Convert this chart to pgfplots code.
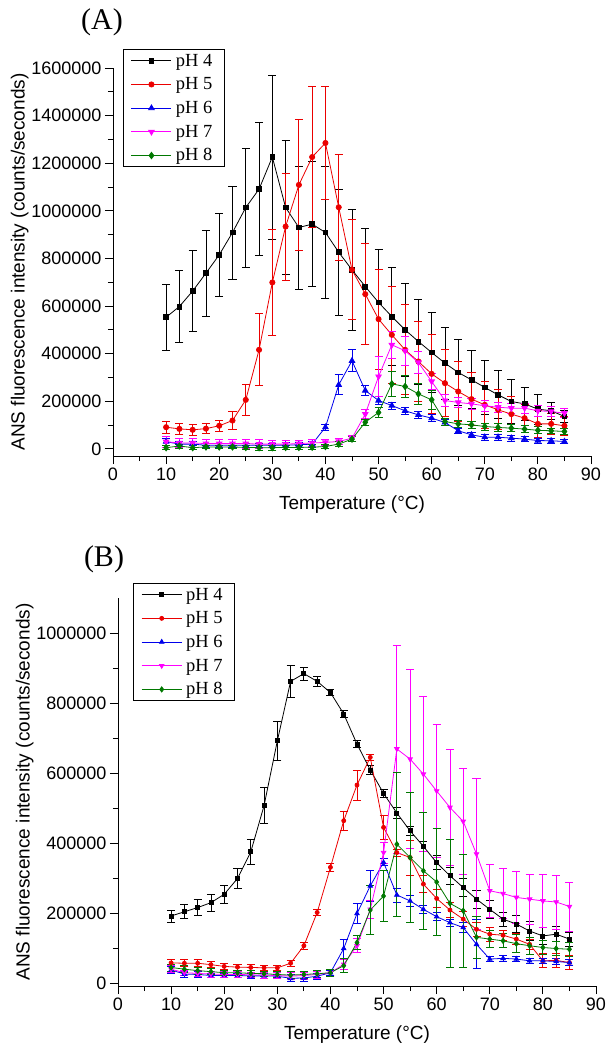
\documentclass[border=0pt]{standalone}
\usepackage{pgfplots}
\usepackage{pgfplotstable}
\pgfplotsset{compat=1.18}
\usepackage{fontspec}
\setmainfont{Liberation Sans}
\newfontfamily\tnr{Liberation Serif}
\definecolor{cred}{RGB}{235,0,0}
\definecolor{cblue}{RGB}{0,0,235}
\definecolor{cmag}{RGB}{255,0,255}
\definecolor{cgreen}{RGB}{0,120,0}

% Panel A: T, value, error for pH 4..8
\pgfplotstableread{
T a4 e4 a5 e5 a6 e6 a7 e7 a8 e8
10 553000 140000 91000 24000 30000 15000 30000 22000 5000 8000
12.5 598000 150000 84000 22000 20000 12000 25000 20000 12000 8000
15 663000 170000 80000 22000 20000 12000 25000 18000 5000 8000
17.5 738000 180000 85000 22000 15000 10000 22000 18000 8000 8000
20 815000 175000 97000 22000 15000 10000 22000 18000 8000 8000
22.5 909000 195000 119000 37000 15000 10000 22000 18000 8000 8000
25 1014000 250000 206000 65000 15000 10000 22000 18000 6000 8000
27.5 1091000 280000 416000 151000 15000 10000 20000 18000 5000 10000
30 1226000 345000 699000 221000 15000 10000 20000 15000 5000 10000
32.5 1014000 280000 934000 225000 16000 10000 20000 15000 6000 10000
35 930000 258000 1109000 274000 17000 10000 22000 15000 6000 10000
37.5 944000 262000 1226000 296000 20000 12000 25000 15000 7000 10000
40 909000 278000 1285000 237000 91000 12000 27000 12000 10000 10000
42.5 826000 265000 1015000 223000 269000 42000 31000 12000 20000 10000
45 752000 255000 752000 210000 370000 46000 45000 12000 41000 10000
47.5 682000 245000 650000 213000 245000 20000 146000 20000 112000 12000
50 615000 225000 545000 210000 203000 18000 304000 84000 153000 20000
52.5 556000 207000 479000 203000 182000 15000 437000 56000 273000 52000
55 500000 196000 416000 189000 160000 15000 412000 60000 262000 45000
57.5 451000 179000 367000 168000 143000 15000 363000 45000 231000 45000
60 405000 168000 315000 164000 129000 15000 283000 32000 206000 40000
62.5 360000 151000 276000 140000 111000 12000 203000 25000 115000 15000
65 321000 140000 241000 126000 76000 10000 195000 22000 105000 15000
67.5 290000 122000 209000 112000 59000 12000 189000 22000 101000 15000
70 258000 112000 185000 98000 49000 12000 181000 22000 94000 15000
72.5 227000 101000 164000 84000 49000 12000 175000 22000 90000 15000
75 199000 91000 146000 74000 45000 12000 171000 22000 87000 15000
77.5 189000 70000 129000 59000 41000 10000 171000 22000 83000 15000
80 167000 63000 105000 55000 35000 10000 160000 22000 78000 15000
82.5 160000 35000 105000 45000 34000 10000 157000 20000 76000 12000
85 136000 24000 97000 40000 31000 8000 150000 18000 73000 12000
}\tableA

% Panel B
\pgfplotstableread{
T a4 e4 a5 e5 a6 e6 a7 e7 a8 e8
10 192000 17000 58000 10000 38000 10000 40000 10000 45000 10000
12.5 204000 20000 57000 10000 26000 8000 30000 8000 40000 10000
15 216000 22000 57000 10000 25000 8000 28000 8000 36000 10000
17.5 230000 24000 53000 8000 22000 6000 26000 8000 33000 8000
20 254000 26000 48000 8000 22000 6000 25000 8000 30000 8000
22.5 299000 29000 46000 8000 22000 6000 25000 8000 30000 8000
25 375000 36000 45000 8000 21000 6000 24000 8000 28000 8000
27.5 507000 52000 44000 8000 21000 6000 23000 8000 27000 8000
30 692000 56000 44000 8000 20000 6000 22000 8000 25000 8000
32.5 862000 45000 57000 8000 14000 10000 20000 10000 23000 10000
35 884000 19000 107000 10000 15000 10000 22000 10000 25000 10000
37.5 862000 15000 202000 8000 20000 8000 25000 10000 27000 10000
40 830000 8000 331000 12000 30000 8000 30000 10000 30000 10000
42.5 769000 10000 464000 28000 99000 27000 54000 15000 50000 20000
45 683000 10000 566000 43000 199000 29000 107000 20000 116000 20000
47.5 609000 12000 645000 8000 278000 43000 211000 25000 209000 70000
50 542000 12000 445000 35000 345000 10000 373000 30000 249000 73000
52.5 486000 15000 373000 10000 252000 20000 669000 297000 397000 205000
55 435000 14000 359000 50000 235000 15000 640000 255000 359000 186000
57.5 391000 15000 283000 25000 211000 12000 597000 221000 321000 167000
60 344000 20000 242000 25000 190000 12000 549000 191000 289000 153000
62.5 307000 25000 209000 22000 173000 10000 502000 167000 228000 182000
65 273000 25000 183000 22000 159000 15000 462000 151000 207000 162000
67.5 240000 25000 154000 20000 111000 70000 369000 216000 131000 61000
70 211000 25000 140000 20000 69000 8000 264000 76000 126000 25000
72.5 183000 20000 137000 15000 71000 8000 256000 72000 121000 20000
75 169000 25000 126000 15000 69000 8000 245000 73000 113000 25000
77.5 149000 28000 111000 15000 64000 8000 240000 71000 107000 25000
80 135000 25000 64000 20000 64000 8000 235000 76000 102000 20000
82.5 140000 22000 65000 20000 62000 8000 232000 77000 99000 20000
85 126000 20000 59000 20000 59000 8000 219000 70000 97000 20000
}\tableB

\pgfplotsset{
  panel/.style={
    scale only axis, width=478bp, height=388bp,
    axis x line=bottom, axis y line=left,
    axis line style={-, line width=1bp, black},
    xmin=0, xmax=90, xtick={0,10,...,90}, minor x tick num=1,
    minor y tick num=1,
    tick align=outside, major tick length=8bp, minor tick length=5bp,
    every tick/.style={black, line width=1bp},
    tick label style={font=\fontsize{18bp}{20bp}\selectfont},
    /pgf/number format/assume math mode=true,
    scaled y ticks=false,
    yticklabel style={/pgf/number format/fixed, /pgf/number format/1000 sep={}},
    xlabel={Temperature (°C)},
    ylabel={ANS fluorescence intensity (counts/seconds)},
    label style={font=\fontsize{19bp}{22bp}\selectfont},
    xlabel style={at={(axis description cs:0.5,-0.125)}, anchor=center},
    ylabel style={at={(axis description cs:-0.195,0.5)}, anchor=center},
    legend cell align=left,
    legend style={anchor=north west, draw=black, line width=1bp,
      font=\tnr\fontsize{18.5bp}{20bp}\selectfont,
      inner xsep=8bp, inner ysep=3bp, row sep=7bp,
      nodes={inner xsep=4bp, inner ysep=1.5bp}},
    legend image code/.code={\draw[mark repeat=2,mark phase=2] plot coordinates {(0bp,0bp) (20bp,0bp) (40bp,0bp)};},
    error bars/y dir=both, error bars/y explicit,
    error bars/error bar style={line width=0.8bp, solid},
    error bars/error mark options={rotate=90, mark size=4bp, line width=0.8bp},
  },
  s4/.style={black, line width=0.8bp, mark=square*, mark size=2.4bp},
  s5/.style={cred, line width=0.8bp, mark=*, mark size=2.6bp},
  s6/.style={cblue, line width=0.8bp, mark=triangle*, mark size=3.2bp},
  s7/.style={cmag, line width=0.8bp, mark=triangle*, mark size=3.2bp, mark options={rotate=180}},
  s8/.style={cgreen, line width=0.8bp, mark=diamond*, mark size=3.2bp},
}

\begin{document}
\begin{tikzpicture}
\useasboundingbox (0,0) rectangle (611bp,-1050bp);
\node[font=\tnr\fontsize{30bp}{32bp}\selectfont] at (102bp,-22bp) {(A)};
\node[font=\tnr\fontsize{30bp}{32bp}\selectfont] at (104bp,-559bp) {(B)};

\begin{axis}[panel, at={(113bp,-456bp)}, anchor=south west,
  ymin=-30000, ymax=1600000, ytick={0,200000,...,1600000},
  legend style={at={(0.02,1.049)}}]
\addplot[s4] table[x=T, y=a4, y error=e4] {\tableA};
\addplot[s5] table[x=T, y=a5, y error=e5] {\tableA};
\addplot[s6] table[x=T, y=a6, y error=e6] {\tableA};
\addplot[s7] table[x=T, y=a7, y error=e7] {\tableA};
\addplot[s8] table[x=T, y=a8, y error=e8] {\tableA};
\legend{pH 4, pH 5, pH 6, pH 7, pH 8}
\end{axis}

\begin{axis}[panel, at={(118bp,-986bp)}, anchor=south west,
  ymin=-8000, ymax=1100000, ytick={0,200000,...,1000000},
  legend style={at={(0.031,1.039)}},
  s4/.append style={mark size=2bp}, s5/.append style={mark size=2bp},
  s6/.append style={mark size=2.6bp}, s7/.append style={mark size=2.6bp},
  s8/.append style={mark size=2.6bp}]
\addplot[s4] table[x=T, y=a4, y error=e4] {\tableB};
\addplot[s5] table[x=T, y=a5, y error=e5] {\tableB};
\addplot[s6] table[x=T, y=a6, y error=e6] {\tableB};
\addplot[s7] table[x=T, y=a7, y error=e7] {\tableB};
\addplot[s8] table[x=T, y=a8, y error=e8] {\tableB};
\legend{pH 4, pH 5, pH 6, pH 7, pH 8}
\end{axis}
\end{tikzpicture}
\end{document}
